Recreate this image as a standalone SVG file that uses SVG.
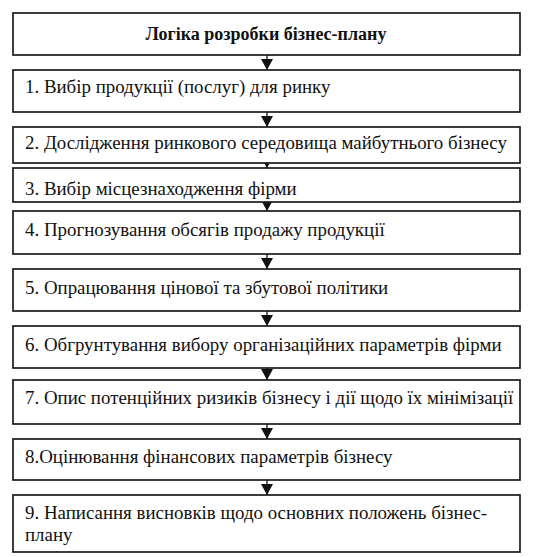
<svg xmlns="http://www.w3.org/2000/svg" width="544" height="557" viewBox="0 0 544 557">
<style>
.box{fill:#fff;stroke:#1a1a1a;stroke-width:1.7}
.c{stroke:#111;stroke-width:1.3;fill:none}
.t{font-family:'Liberation Serif','Times New Roman',serif;font-size:18.9px;fill:#111}
.h{font-weight:bold;font-size:18px;text-anchor:middle}
</style>
<defs>
<marker id="ah" markerUnits="userSpaceOnUse" markerWidth="11" markerHeight="12" refX="10" refY="5.5" orient="auto" viewBox="0 0 10 11">
<path d="M0,0 L10,5.5 L0,11 z" fill="#111"/>
</marker>
</defs>
<rect width="544" height="557" fill="#fff"/>
<g id="connectors">
<line class="c" x1="267" y1="55" x2="267" y2="70" marker-end="url(#ah)"/>
<line class="c" x1="267" y1="112" x2="267" y2="127" marker-end="url(#ah)"/>
<line class="c" x1="267" y1="155" x2="267" y2="168" marker-end="url(#ah)"/>
<line class="c" x1="267" y1="195" x2="267" y2="211" marker-end="url(#ah)"/>
<line class="c" x1="267" y1="254" x2="267" y2="269" marker-end="url(#ah)"/>
<line class="c" x1="267" y1="311" x2="267" y2="326" marker-end="url(#ah)"/>
<line class="c" x1="267" y1="368" x2="267" y2="380" marker-end="url(#ah)"/>
<line class="c" x1="267" y1="424" x2="267" y2="439" marker-end="url(#ah)"/>
<line class="c" x1="267" y1="480" x2="267" y2="495" marker-end="url(#ah)"/>
</g>
<g id="n0"><rect class="box" x="13" y="13" width="507" height="42"/><text class="t h" x="266" y="40">Логіка розробки бізнес-плану</text></g>
<g id="n1"><rect class="box" x="13" y="70" width="507" height="42"/><text class="t" x="25" y="93">1. Вибір продукції (послуг) для ринку</text></g>
<g id="n2"><rect class="box" x="13" y="127" width="507" height="36"/><text class="t" x="25" y="148.5">2. Дослідження ринкового середовища майбутнього бізнесу</text></g>
<g id="n3"><rect class="box" x="13" y="168" width="507" height="34"/><text class="t" x="25" y="194.5">3. Вибір місцезнаходження фірми</text></g>
<g id="n4"><rect class="box" x="13" y="211" width="507" height="43"/><text class="t" x="25" y="236">4. Прогнозування обсягів продажу продукції</text></g>
<g id="n5"><rect class="box" x="13" y="269" width="507" height="42"/><text class="t" x="25" y="294">5. Опрацювання цінової та збутової політики</text></g>
<g id="n6"><rect class="box" x="13" y="326" width="507" height="42"/><text class="t" x="25" y="351">6. Обгрунтування вибору організаційних параметрів фірми</text></g>
<g id="n7"><rect class="box" x="13" y="380" width="507" height="44"/><text class="t" x="25" y="404">7. Опис потенційних ризиків бізнесу і дії щодо їх мінімізації</text></g>
<g id="n8"><rect class="box" x="13" y="439" width="507" height="41"/><text class="t" x="25" y="463">8.Оцінювання фінансових параметрів бізнесу</text></g>
<g id="n9"><rect class="box" x="13" y="495" width="507" height="57"/><text class="t" x="25" y="518.5">9. Написання висновків щодо основних положень бізнес-</text><text class="t" x="25" y="541">плану</text></g>
</svg>
